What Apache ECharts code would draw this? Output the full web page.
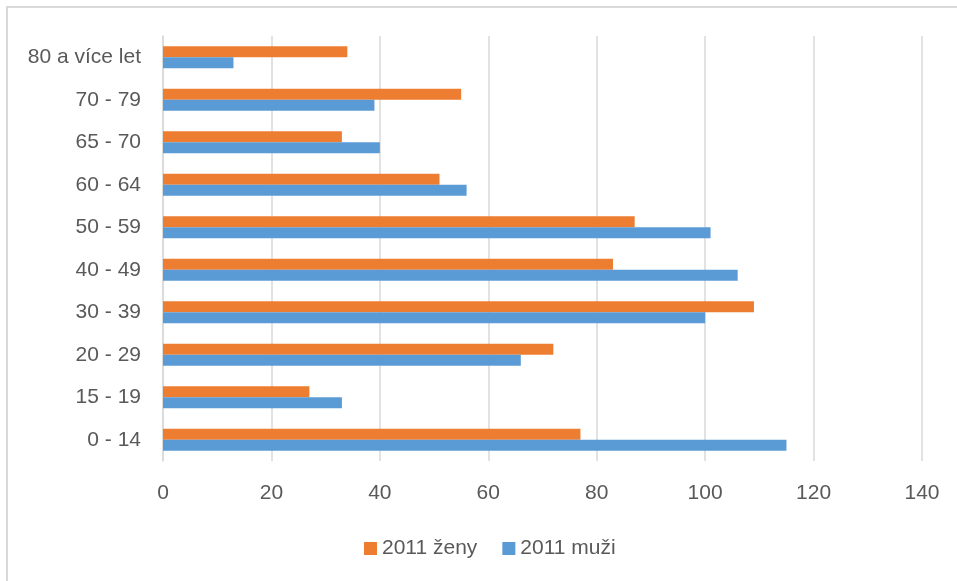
<!DOCTYPE html>
<html>
<head>
<meta charset="utf-8">
<script src="https://cdn.jsdelivr.net/npm/echarts@6/dist/echarts.min.js"></script>
<style>
html,body{margin:0;padding:0;background:#fff;}
#chart{width:957px;height:581px;}
</style>
</head>
<body>
<div id="chart"></div>
<script>
// Categories (bottom to top as drawn by ECharts on a category y-axis)
const categories = ['0 - 14', '15 - 19', '20 - 29', '30 - 39', '40 - 49', '50 - 59', '60 - 64', '65 - 70', '70 - 79', '80 a více let'];
const zenyName = '2011 ženy';
const muziName = '2011 muži';
const zenyValues = [77, 27, 72, 109, 83, 87, 51, 33, 55, 34];
const muziValues = [115, 33, 66, 100, 106, 101, 56, 40, 39, 13];
const xTicks = { min: 0, max: 140, interval: 20 };

const textColor = '#595959';
const fontFamily = '"Liberation Sans", Arial, sans-serif';

const chart = echarts.init(document.getElementById('chart'), null, { renderer: 'canvas' });
chart.setOption({
  animation: false,
  backgroundColor: '#ffffff',
  graphic: [{
    type: 'rect',
    shape: { x: 7, y: 7, width: 1000, height: 700 },
    style: { fill: 'none', stroke: '#d9d9d9', lineWidth: 2 },
    silent: true
  }],
  grid: { left: 163, right: 35, top: 36, bottom: 120 },
  legend: {
    data: [zenyName, muziName],
    left: 359,
    top: 533,
    itemWidth: 13,
    itemHeight: 13,
    itemGap: 25,
    icon: 'rect',
    textStyle: { color: textColor, fontSize: 21, fontFamily: fontFamily }
  },
  xAxis: {
    type: 'value',
    min: xTicks.min,
    max: xTicks.max,
    interval: xTicks.interval,
    axisLine: { show: false },
    axisTick: { show: false },
    splitLine: { lineStyle: { color: '#d9d9d9', width: 1.5 } },
    axisLabel: { color: textColor, fontSize: 21, fontFamily: fontFamily, margin: 22 }
  },
  yAxis: {
    type: 'category',
    data: categories,
    axisLine: { show: true, lineStyle: { color: '#d9d9d9', width: 1.5 } },
    axisTick: { show: false },
    axisLabel: { color: textColor, fontSize: 21, fontFamily: fontFamily, margin: 22 }
  },
  series: [
    {
      name: zenyName,
      type: 'bar',
      data: zenyValues,
      barWidth: 11,
      barGap: '0%',
      itemStyle: { color: '#ED7D31' }
    },
    {
      name: muziName,
      type: 'bar',
      data: muziValues,
      barWidth: 11,
      barGap: '0%',
      itemStyle: { color: '#5B9BD5' }
    }
  ]
});
</script>
</body>
</html>
